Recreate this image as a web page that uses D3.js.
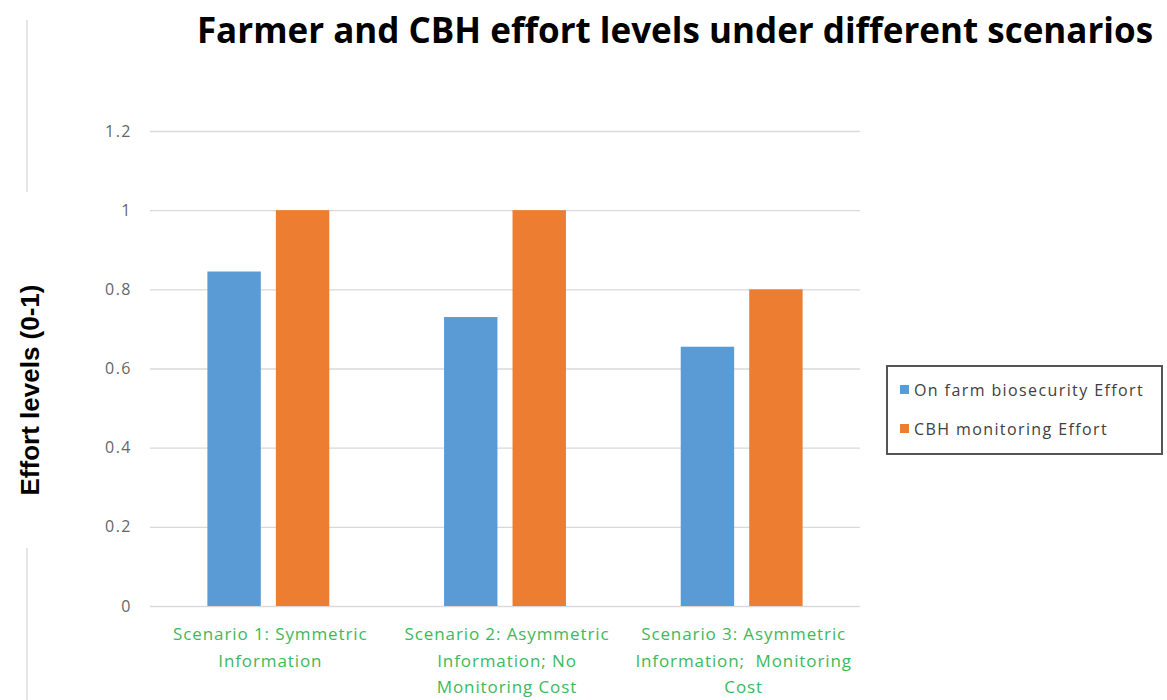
<!DOCTYPE html>
<head>
<meta charset="utf-8">
<title>Farmer and CBH effort levels</title>
<style>
  body { margin: 0; padding: 0; background: #fff; }
  .tick text { fill: #666; font-family: 'Open Sans', sans-serif; font-size: 16px; letter-spacing: 1.5px; }
  .cat { fill: #3cb95a; font-family: 'Open Sans', sans-serif; font-size: 17px; letter-spacing: 0.9px; white-space: pre; }
  .legend text { fill: #404040; font-family: 'Open Sans', sans-serif; font-size: 16px; letter-spacing: 1.4px; }
</style>
</head>
<body>
<div id="vis"></div>
<script src="https://cdn.jsdelivr.net/npm/d3@7"></script>
<script>
var scenarios = [
  ["Scenario 1: Symmetric", "Information"],
  ["Scenario 2: Asymmetric", "Information; No", "Monitoring Cost"],
  ["Scenario 3: Asymmetric", "Information;  Monitoring", "Cost"]
];
var seriesNames = ["On farm biosecurity Effort", "CBH monitoring Effort"];
var farmEffort = [0.845, 0.73, 0.655];
var cbhEffort = [1, 1, 0.8];
var yTicks = [0, 0.2, 0.4, 0.6, 0.8, 1, 1.2];
var colors = ["#5b9bd5", "#ed7d31"];

var width = 1167, height = 700;
var svg = d3.select("#vis").append("svg")
  .attr("width", width)
  .attr("height", height);

var x = d3.scaleBand().domain(d3.range(scenarios.length)).range([150, 860]);
var xs = d3.scaleBand().domain([0, 1]).range([0, x.bandwidth() * 0.515]).paddingInner(0.22);
var y = d3.scaleLinear().domain([0, 1.2]).range([606, 131]);

// left border fragments
svg.append("line").attr("x1", 27).attr("x2", 27).attr("y1", 20).attr("y2", 192)
  .attr("stroke", "#ddd").attr("stroke-width", 1.5);
svg.append("line").attr("x1", 27).attr("x2", 27).attr("y1", 548).attr("y2", 700)
  .attr("stroke", "#ddd").attr("stroke-width", 1.5);

svg.append("text")
  .attr("x", 675).attr("y", 43)
  .attr("text-anchor", "middle")
  .style("font-family", "'Open Sans', sans-serif")
  .style("font-weight", 700)
  .style("font-size", "35px")
  .text("Farmer and CBH effort levels under different scenarios");

svg.append("text")
  .attr("transform", "translate(39,390) rotate(-90)")
  .attr("text-anchor", "middle")
  .style("font-family", "'Liberation Sans', Arial, sans-serif")
  .style("font-weight", 700)
  .style("font-size", "26px")
  .text("Effort levels (0-1)");

var yAxis = svg.append("g")
  .attr("transform", "translate(150,0)")
  .call(d3.axisLeft(y).tickValues(yTicks).tickSize(-710).tickPadding(18)
    .tickFormat(function(d) { return d3.format("")(+d.toFixed(1)); }));
yAxis.select(".domain").remove();
yAxis.selectAll(".tick line").attr("stroke", "#d9d9d9").attr("stroke-width", 1.3);

var data = scenarios.map(function(s, i) { return [farmEffort[i], cbhEffort[i]]; });
var groups = svg.append("g").selectAll("g")
  .data(data).enter().append("g")
  .attr("transform", function(d, i) {
    return "translate(" + (x(i) + x.bandwidth() * (1 - 0.515) / 2) + ",0)";
  });
groups.selectAll("rect")
  .data(function(d) { return d; }).enter().append("rect")
  .attr("x", function(d, j) { return xs(j); })
  .attr("width", xs.bandwidth())
  .attr("y", function(d) { return y(d); })
  .attr("height", function(d) { return y(0) - y(d); })
  .attr("fill", function(d, j) { return colors[j]; });

var cats = svg.append("g").selectAll("text")
  .data(scenarios).enter().append("text")
  .attr("class", "cat")
  .attr("text-anchor", "middle")
  .attr("x", function(d, i) { return x(i) + x.bandwidth() / 2 + 2; })
  .attr("y", 640);
cats.selectAll("tspan")
  .data(function(d) { return d; }).enter().append("tspan")
  .attr("x", function() { return this.parentNode.getAttribute("x"); })
  .attr("dy", function(d, k) { return k === 0 ? 0 : 26.5; })
  .text(function(d) { return d; });

var legend = svg.append("g").attr("class", "legend");
legend.append("rect")
  .attr("x", 887).attr("y", 366).attr("width", 275).attr("height", 88)
  .attr("fill", "#fff").attr("stroke", "#555").attr("stroke-width", 2);
var items = legend.selectAll("g.item")
  .data(seriesNames).enter().append("g").attr("class", "item")
  .attr("transform", function(d, i) { return "translate(900," + (390 + i * 39) + ")"; });
items.append("rect").attr("x", 0).attr("y", -5).attr("width", 9).attr("height", 9)
  .attr("fill", function(d, i) { return colors[i]; });
items.append("text").attr("x", 14).attr("y", 6).text(function(d) { return d; });
</script>
</body>
